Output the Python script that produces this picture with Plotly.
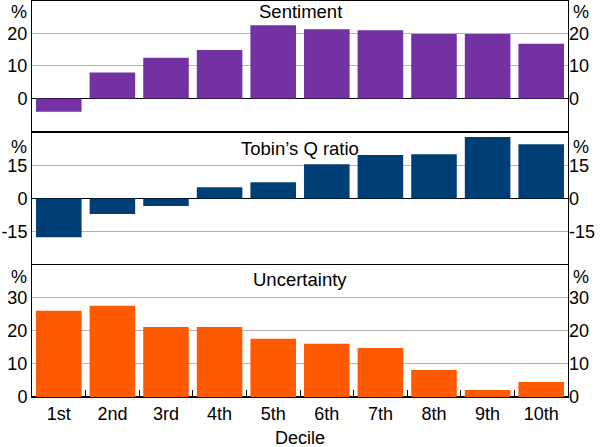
import plotly.graph_objects as go

deciles = ["1st", "2nd", "3rd", "4th", "5th", "6th", "7th", "8th", "9th", "10th"]
sentiment = [-4.1, 8.0, 12.5, 14.9, 22.5, 21.3, 21.0, 19.8, 19.8, 16.8]
tobins_q = [-17.7, -7.1, -3.4, 5.2, 7.5, 15.8, 20.0, 20.4, 28.3, 25.0]
uncertainty = [26.1, 27.6, 21.2, 21.2, 17.6, 16.1, 14.8, 8.2, 2.1, 4.5]

titles = ["Sentiment", "Tobin’s Q ratio", "Uncertainty"]
series = [sentiment, tobins_q, uncertainty]
colors = ["#7331A3", "#003F75", "#FF5A00"]
ranges = [[-10, 30], [-30, 30], [0, 40]]
tickvals = [[0, 10, 20], [-15, 0, 15], [0, 10, 20, 30]]
ticktext = [["0", "10", "20"], ["-15", "0", "15"], ["0", "10", "20", "30"]]
domains = [[0.672, 1.0], [0.336, 0.666], [0.0, 0.334]]

FONT = "Liberation Sans, Arial, sans-serif"
fig = go.Figure()

for i in range(3):
    xa = "x" if i == 0 else f"x{i+1}"
    ya = "y" if i == 0 else f"y{i+1}"
    fig.add_trace(go.Bar(x=deciles, y=series[i], marker=dict(color=colors[i], line=dict(width=0)),
                         xaxis=xa, yaxis=ya, showlegend=False))
    # invisible trace for right-hand axis
    fig.add_trace(go.Scatter(x=deciles, y=series[i], mode="markers", marker=dict(opacity=0),
                             xaxis=xa, yaxis=f"y{i+4}", showlegend=False, hoverinfo="skip"))

layout = dict(
    width=600, height=447,
    margin=dict(l=32, r=32, t=1, b=50, autoexpand=False),
    paper_bgcolor="white", plot_bgcolor="white",
    font=dict(family=FONT, size=18, color="black"),
    bargap=0.15,
    showlegend=False,
)

for i in range(3):
    xkey = "xaxis" if i == 0 else f"xaxis{i+1}"
    ykey = "yaxis" if i == 0 else f"yaxis{i+1}"
    ya = "y" if i == 0 else f"y{i+1}"
    xa = "x" if i == 0 else f"x{i+1}"
    xax = dict(domain=[0, 1], anchor=ya, showline=True, mirror=True, linecolor="black", linewidth=1,
               showgrid=False, zeroline=False, range=[-0.5, 9.5], type="category", automargin=False)
    if i < 2:
        xax.update(showticklabels=False, ticks="", matches="x3")
    else:
        xax.update(ticks="inside", tickson="boundaries", ticklen=7, tickcolor="black", tickwidth=1,
                   tickfont=dict(size=18))
    layout[xkey] = xax
    layout[ykey] = dict(domain=domains[i], anchor=xa, range=ranges[i], tickvals=tickvals[i],
                        ticktext=ticktext[i], automargin=False,
                        showline=True, mirror=True, linecolor="black", linewidth=1,
                        showgrid=True, gridcolor="#B4B4B4", gridwidth=1,
                        zeroline=True, zerolinecolor="black", zerolinewidth=1,
                        ticks="", tickfont=dict(size=18))
    layout[f"yaxis{i+4}"] = dict(overlaying=ya, side="right", anchor=xa, range=ranges[i],
                                 tickvals=tickvals[i], ticktext=ticktext[i], automargin=False,
                                 showgrid=False, zeroline=False,
                                 showline=False, ticks="", tickfont=dict(size=18))

fig.update_layout(**layout)

annots = []
title_shift = [2, -3, -2]
pct_shift = [1, -2, 0]
for i in range(3):
    top = domains[i][1]
    annots.append(dict(text=titles[i], xref="paper", yref="paper", x=0.5, y=top,
                       xanchor="center", yanchor="top", yshift=title_shift[i], showarrow=False,
                       font=dict(size=18.5)))
    annots.append(dict(text="%", xref="paper", yref="paper", x=0, y=top, xanchor="right",
                       yanchor="top", xshift=-3, yshift=pct_shift[i], showarrow=False, font=dict(size=18)))
    annots.append(dict(text="%", xref="paper", yref="paper", x=1, y=top, xanchor="left",
                       yanchor="top", xshift=3, yshift=pct_shift[i], showarrow=False, font=dict(size=18)))
annots.append(dict(text="Decile", xref="paper", yref="paper", x=0.5, y=0, xanchor="center",
                   yanchor="middle", yshift=-41, showarrow=False, font=dict(size=18)))
fig.update_layout(annotations=annots)

fig.write_html("out.html", config={"displayModeBar": False},
               post_script="document.body.style.margin='0';document.body.style.padding='0';")
